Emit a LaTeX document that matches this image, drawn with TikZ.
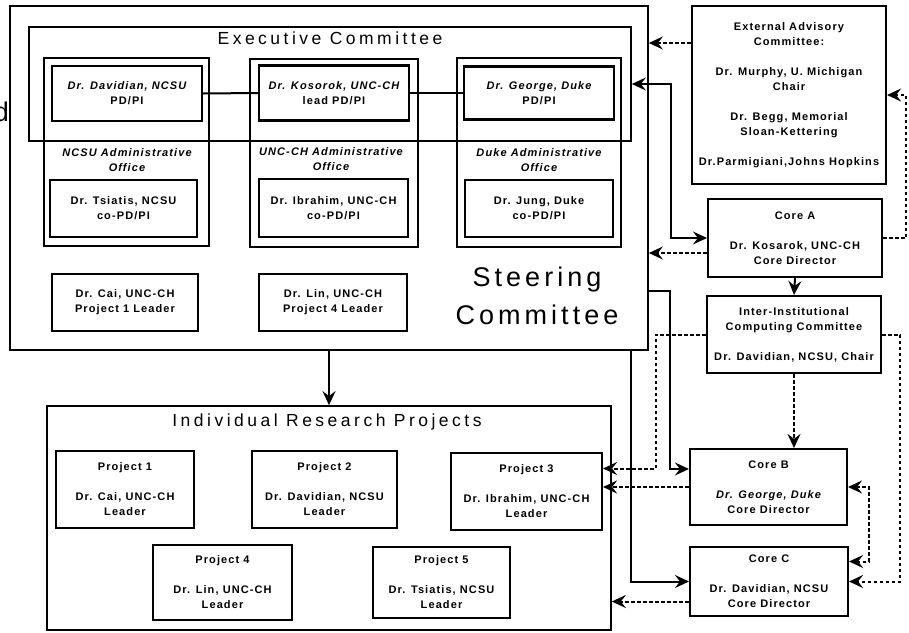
\documentclass[tikz,border=0pt]{standalone}
\usepackage{fontspec}
\setmainfont{Liberation Sans}
\newfontfamily\scanfont[LetterSpace=10]{Liberation Sans}
\newfontfamily\titlefont[LetterSpace=20]{Liberation Sans}
\newfontfamily\steerfont[LetterSpace=15]{Liberation Sans}
\usetikzlibrary{arrows.meta,calc}

\begin{document}
\begin{tikzpicture}[x=1pt,y=-1pt,
  outerbox/.style={draw, line width=1.7pt, inner sep=0pt},
  box/.style={draw, line width=2.1pt, inner sep=0pt, align=center,
    font=\scanfont\bfseries\fontsize{11}{15}\selectfont},
  adminlbl/.style={inner sep=0pt, align=center,
    font=\scanfont\bfseries\itshape\fontsize{11}{15}\selectfont},
  bigtitle/.style={inner sep=0pt, font=\titlefont\fontsize{17.5}{20}\selectfont},
  hugetitle/.style={inner sep=0pt, align=center, font=\steerfont\fontsize{27}{38}\selectfont},
  link/.style={line width=2pt},
  arr/.style={line width=2pt, -{Stealth[length=14pt,width=13pt,inset=5pt]}},
  arrboth/.style={line width=2pt, {Stealth[length=14pt,width=13pt,inset=5pt]}-{Stealth[length=14pt,width=13pt,inset=5pt]}},
  dasharr/.style={arr, dash pattern=on 3.5pt off 2.5pt},
  dasharrboth/.style={arrboth, dash pattern=on 3.5pt off 2.5pt}]
\useasboundingbox (0,0) rectangle (909,632);
\clip (0,0) rectangle (909,632);

% frames
\node[outerbox, minimum width=638, minimum height=344] (steer) at (329,178) {};
\node[outerbox, minimum width=602, minimum height=114] (exec) at (330,84) {};
\node[outerbox, minimum width=165, minimum height=188] (admNC) at (126.5,152) {};
\node[outerbox, minimum width=168, minimum height=188] (admUN) at (334,153) {};
\node[outerbox, minimum width=164, minimum height=189] (admDU) at (539,152.5) {};
\node[outerbox, minimum width=564, minimum height=224] (irp) at (329,518) {};

% titles
\node[hugetitle, anchor=base east] (cutd) at (9,121) {d};
\node[bigtitle] (execlbl) at (330,38) {Executive Committee};
\node[bigtitle] (irplbl) at (327,422) {Individual Research Projects};
\node[hugetitle] (steerlbl) at (537,296) {Steering\\Committee};
\node[adminlbl] (lblNC) at (127,160) {NCSU Administrative\\Office};
\node[adminlbl] (lblUN) at (331,159) {UNC-CH Administrative\\Office};
\node[adminlbl] (lblDU) at (539,160) {Duke Administrative\\Office};

% steering committee members
\node[box, minimum width=150, minimum height=55] (piNC) at (127,93.5) {{\itshape Dr. Davidian, NCSU}\\PD/PI};
\node[box, minimum width=150, minimum height=55] (piUN) at (334,93) {{\itshape Dr. Kosorok, UNC-CH}\\lead PD/PI};
\node[box, minimum width=150, minimum height=53] (piDU) at (539,93) {{\itshape Dr. George, Duke}\\PD/PI};
\node[box, minimum width=147, minimum height=57] (coNC) at (123.5,208.5) {Dr. Tsiatis, NCSU\\co-PD/PI};
\node[box, minimum width=149, minimum height=58] (coUN) at (333.5,208) {Dr. Ibrahim, UNC-CH\\co-PD/PI};
\node[box, minimum width=148, minimum height=57] (coDU) at (539,208.5) {Dr. Jung, Duke\\co-PD/PI};
\node[box, minimum width=146, minimum height=57] (leadCai) at (125,302.5) {Dr. Cai, UNC-CH\\Project 1 Leader};
\node[box, minimum width=148, minimum height=57] (leadLin) at (333,302.5) {Dr. Lin, UNC-CH\\Project 4 Leader};

% right column
\node[box, minimum width=194, minimum height=178] (eac) at (789,95) {External Advisory\\Committee:\\[15pt]Dr. Murphy, U. Michigan\\Chair\\[15pt]Dr. Begg, Memorial\\Sloan-Kettering\\[15pt]Dr.Parmigiani,Johns Hopkins};
\node[box, minimum width=174, minimum height=78] (coreA) at (795,238) {Core A\\[15pt]Dr. Kosarok, UNC-CH\\Core Director};
\node[box, minimum width=174, minimum height=77] (icc) at (794,334.5) {Inter-Institutional\\Computing Committee\\[15pt]Dr. Davidian, NCSU, Chair};
\node[box, minimum width=157, minimum height=76] (coreB) at (768.5,487) {Core B\\[15pt]{\itshape Dr. George, Duke}\\Core Director};
\node[box, minimum width=158, minimum height=69] (coreC) at (769,581.5) {Core C\\[15pt]Dr. Davidian, NCSU\\Core Director};

% projects
\node[box, minimum width=138, minimum height=77] (p1) at (125,489.5) {Project 1\\[15pt]Dr. Cai, UNC-CH\\Leader};
\node[box, minimum width=145, minimum height=77] (p2) at (324.5,489.5) {Project 2\\[15pt]Dr. Davidian, NCSU\\Leader};
\node[box, minimum width=151, minimum height=77] (p3) at (526.5,491.5) {Project 3\\[15pt]Dr. Ibrahim, UNC-CH\\Leader};
\node[box, minimum width=139, minimum height=75] (p4) at (222.5,582.5) {Project 4\\[15pt]Dr. Lin, UNC-CH\\Leader};
\node[box, minimum width=137, minimum height=71] (p5) at (441.5,582.5) {Project 5\\[15pt]Dr. Tsiatis, NCSU\\Leader};

% connectors
\draw[link] (piNC.east) -- (piUN.west);
\draw[link] (piUN.east) -- (piDU.west);
\draw[arr] (steer.south) -- (irp.north);
\draw[dasharr] ([yshift=52pt]eac.west) coordinate (eacout) -- (eacout -| steer.east);
\draw[arrboth] (exec.east) -- ++(39,0) |- (coreA.west);
\draw[dasharr] ([yshift=-15pt]coreA.west) coordinate (aout) -- (aout -| steer.east);
\draw[dasharr] (coreA.east) -- ++(23,0) |- (eac.east);
\draw[arr] (coreA.south) -- (icc.north);
\draw[arr] ([yshift=-113pt]steer.east) -- ++(21,0) |- ([yshift=18pt]coreB.west);
\draw[arr] ([xshift=302pt]steer.south) |- (coreC.west);
\draw[dasharr] (icc.west) -- ++(-50,0) |- ([yshift=23pt]p3.east);
\draw[dasharr] (coreB.west) -- (coreB.west -| p3.east);
\draw[dasharr] (icc.south) -- (icc.south |- coreB.north);
\draw[dasharr] (icc.east) -- ++(18,0) |- (coreC.east);
\draw[dasharrboth] (coreB.east) -- ++(21,0) |- ([yshift=20pt]coreC.east);
\draw[dasharr] ([yshift=-20pt]coreC.west) coordinate (cout) -- (cout -| irp.east);
\end{tikzpicture}
\end{document}
